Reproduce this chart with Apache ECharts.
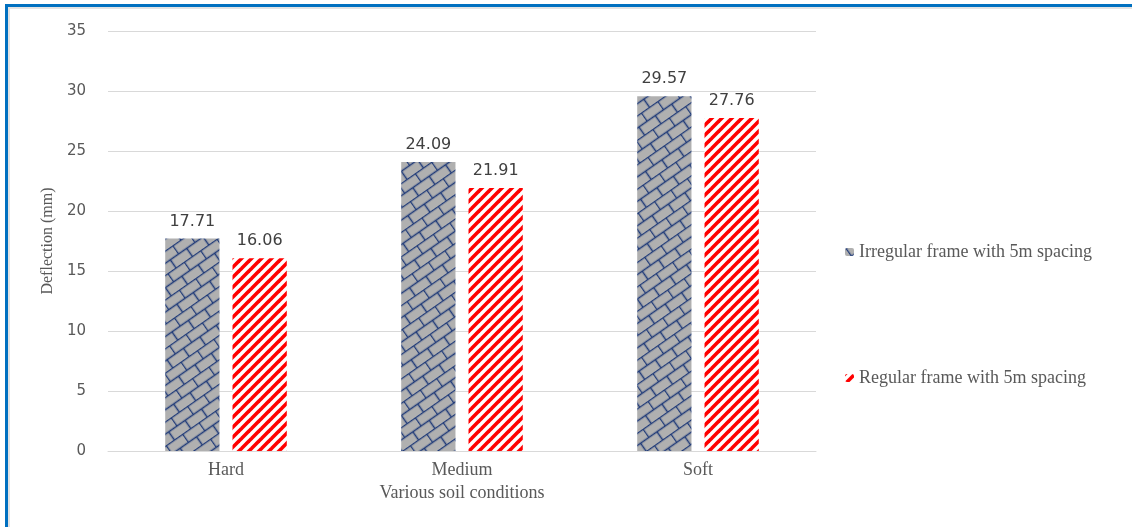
<!DOCTYPE html>
<html>
<head>
<meta charset="utf-8">
<script src="https://cdn.jsdelivr.net/npm/echarts@6/dist/echarts.min.js"></script>
<style>
  html, body { margin: 0; padding: 0; background: #fff; }
  #frame {
    position: absolute; left: 5px; top: 4px; width: 1200px; height: 600px;
    border-left: 3px solid #0070C0; border-top: 3px solid #0070C0;
  }
  #inner {
    position: absolute; left: 8px; top: 7px; width: 1200px; height: 600px;
    border-left: 2px solid #e3e3e3; border-top: 2px solid #e3e3e3;
  }
  #main { position: absolute; left: 0; top: 0; width: 1132px; height: 527px; }
</style>
</head>
<body>
<div id="frame"></div>
<div id="inner"></div>
<div id="main"></div>
<script>
var soils = ['Hard', 'Medium', 'Soft'];
var irregular = [17.71, 24.09, 29.57];
var regular = [16.06, 21.91, 27.76];
var seriesNames = ['Irregular frame with 5m spacing', 'Regular frame with 5m spacing'];

// red "/" stripes on white
function stripePattern() {
  var s = 10;
  var c = document.createElement('canvas');
  c.width = s; c.height = s;
  var ctx = c.getContext('2d');
  ctx.fillStyle = '#ffffff';
  ctx.fillRect(0, 0, s, s);
  ctx.strokeStyle = '#ff0000';
  ctx.lineWidth = 3.6;
  for (var k = -1; k <= 3; k++) {
    var cc = k * s;
    ctx.beginPath();
    ctx.moveTo(cc + s, -s);
    ctx.lineTo(cc - 2 * s, 2 * s);
    ctx.stroke();
  }
  return c;
}

// horizontal bricks, rotated later by the pattern transform
function brickPattern() {
  var w = 20, h = 10;
  var c = document.createElement('canvas');
  c.width = w; c.height = 2 * h;
  var ctx = c.getContext('2d');
  ctx.fillStyle = '#b0b0b0';
  ctx.fillRect(0, 0, w, 2 * h);
  ctx.strokeStyle = '#1f3a78';
  ctx.lineWidth = 1.5;
  ctx.beginPath();
  ctx.moveTo(0, 0.5); ctx.lineTo(w, 0.5);
  ctx.moveTo(0, h + 0.5); ctx.lineTo(w, h + 0.5);
  ctx.moveTo(0.5, 0); ctx.lineTo(0.5, h);
  ctx.moveTo(w / 2 + 0.5, h); ctx.lineTo(w / 2 + 0.5, 2 * h);
  ctx.stroke();
  return c;
}

var myChart = echarts.init(document.getElementById('main'), null, {renderer: 'canvas'});

var serif = '"Liberation Serif", "Times New Roman", serif';
var sans = '"DejaVu Sans", sans-serif';

var option = {
  animation: false,
  grid: { left: 108, right: 316, top: 31, bottom: 76 },
  legend: {
    orient: 'vertical',
    left: 840,
    top: 238,
    itemWidth: 9,
    itemHeight: 8,
    itemGap: 108,
    data: seriesNames,
    textStyle: { fontFamily: serif, fontSize: 18, color: '#595959', lineHeight: 18 }
  },
  xAxis: {
    type: 'category',
    data: soils,
    name: 'Various soil conditions',
    nameLocation: 'middle',
    nameGap: 33,
    nameTextStyle: { fontFamily: serif, fontSize: 18, color: '#595959' },
    axisLine: { lineStyle: { color: '#d9d9d9', width: 1 } },
    axisTick: { show: false },
    axisLabel: { fontFamily: serif, fontSize: 18, color: '#595959', margin: 10 }
  },
  yAxis: {
    type: 'value',
    min: 0,
    max: 35,
    interval: 5,
    name: 'Deflection (mm)',
    nameLocation: 'middle',
    nameGap: 52,
    nameTextStyle: { fontFamily: serif, fontSize: 16, color: '#595959' },
    axisLine: { show: false },
    axisTick: { show: false },
    axisLabel: { fontFamily: sans, fontSize: 15, color: '#595959', margin: 22 },
    splitLine: { lineStyle: { color: '#d9d9d9', width: 1 } }
  },
  series: [
    {
      name: seriesNames[0],
      type: 'bar',
      data: irregular,
      barWidth: '23%',
      barGap: '24%',
      itemStyle: {
        color: { image: brickPattern(), repeat: 'repeat', rotation: -35 * Math.PI / 180 }
      },
      label: {
        show: true, position: 'top', distance: 9,
        fontFamily: sans, fontSize: 16, color: '#404040'
      }
    },
    {
      name: seriesNames[1],
      type: 'bar',
      data: regular,
      barWidth: '23%',
      itemStyle: { color: { image: stripePattern(), repeat: 'repeat' } },
      label: {
        show: true, position: 'top', distance: 9,
        fontFamily: sans, fontSize: 16, color: '#404040'
      }
    }
  ]
};

myChart.setOption(option);
</script>
</body>
</html>
